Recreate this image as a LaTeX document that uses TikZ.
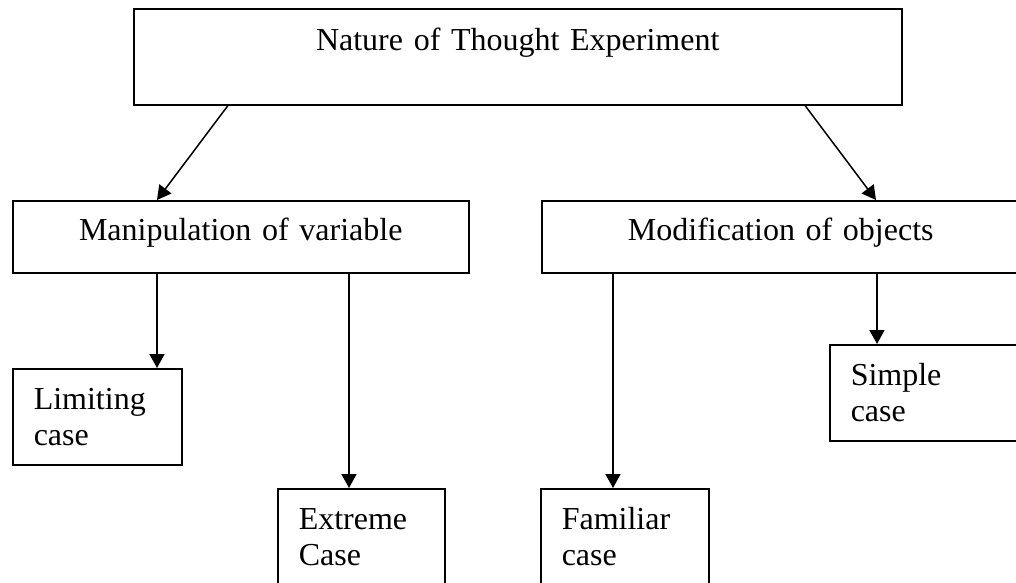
\documentclass[tikz,border=0pt]{standalone}
\usepackage{fontspec}
\setmainfont{Liberation Serif}
\usetikzlibrary{arrows.meta,calc}

\tikzset{
  boxframe/.style={draw, line width=1.5pt, inner sep=0pt, anchor=north west,
    font=\fontsize{32}{36}\selectfont},
  headbox/.style={boxframe, text width=#1, align=center, text height=42pt, text depth=54pt},
  branchbox/.style={boxframe, text width=#1, align=center, text height=40pt, text depth=32pt},
  casebox/.style={boxframe, inner xsep=21pt, text width=#1, align=left, text height=41pt, text depth=55pt},
  link/.style={line width=1.5pt, -{Triangle[width=15pt,length=14pt]}}
}

\begin{document}
\begin{tikzpicture}[x=1pt,y=-1pt]

\useasboundingbox (0,0) rectangle (1016,582);
\clip (0,0) rectangle (1016,582);

\node[headbox=768pt] (nature) at (133,8) {Nature of Thought Experiment};

\node[branchbox=456pt] (manip) at (12,200) {Manipulation of variable};
\node[branchbox=478pt] (modif) at (541,200) {Modification of objects};

\node[casebox=127pt] (limiting) at (12,368) {Limiting\\case};
\node[casebox=125pt] (extreme) at (277,488) {Extreme\\Case};
\node[casebox=126pt] (familiar) at (540,488) {Familiar\\case};
\node[casebox=148pt] (simple) at (829,344) {Simple\\case};

\draw[link] ($(nature.south west)+(95,0)$) -- ($(manip.north west)+(145,0)$);
\draw[link] ($(nature.south west)+(672,0)$) -- ($(modif.north west)+(335,0)$);

\draw[link] ($(manip.south west)+(145,0)$) coordinate (m1) -- (m1 |- limiting.north);
\draw[link] ($(manip.south west)+(337,0)$) coordinate (m2) -- (m2 |- extreme.north);
\draw[link] ($(modif.south west)+(72,0)$) coordinate (m3) -- (m3 |- familiar.north);
\draw[link] ($(modif.south west)+(336,0)$) coordinate (m4) -- (m4 |- simple.north);

\end{tikzpicture}
\end{document}
